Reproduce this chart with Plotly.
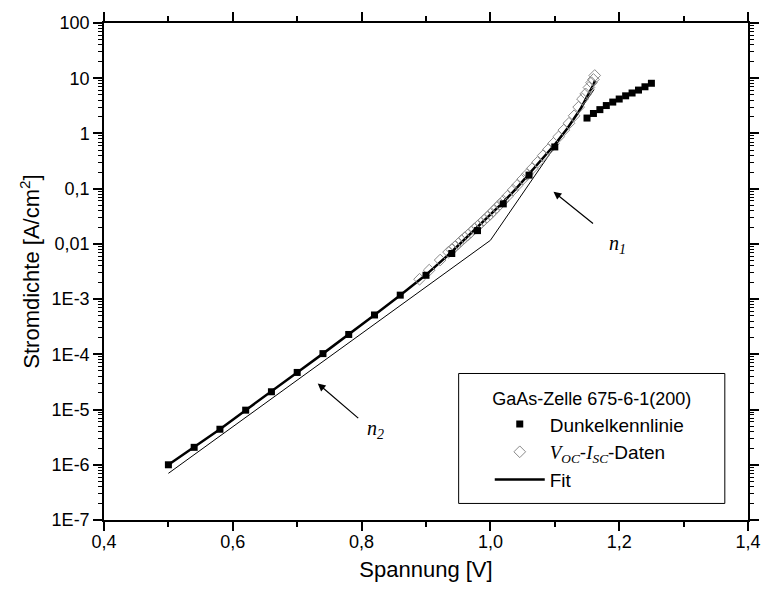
import plotly.graph_objects as go

# ---- data ----
dark_v = [0.50, 0.54, 0.58, 0.62, 0.66, 0.70, 0.74, 0.78, 0.82, 0.86, 0.90, 0.94, 0.98, 1.02, 1.06, 1.10,
          1.15, 1.16, 1.17, 1.18, 1.19, 1.20, 1.21, 1.22, 1.23, 1.24, 1.25]
dark_j = [1.0e-6, 2.07e-6, 4.4e-6, 9.75e-6, 2.1e-5, 4.7e-5, 1.03e-4, 2.29e-4, 5.16e-4, 1.18e-3, 2.7e-3,
          6.7e-3, 1.74e-2, 5.3e-2, 0.176, 0.57,
          1.9, 2.3, 2.7, 3.2, 3.7, 4.2, 4.8, 5.4, 6.1, 7.0, 8.1]

voc_v = [0.890, 0.905, 0.922, 0.935, 0.940, 0.945, 0.950, 0.955, 0.960, 0.965, 0.970, 0.975, 0.980,
         0.985, 0.990, 0.995, 1.000, 1.005, 1.010, 1.015, 1.020, 1.027, 1.035, 1.042, 1.050, 1.057,
         1.065, 1.073, 1.082, 1.090, 1.098, 1.106, 1.114, 1.122, 1.130, 1.137, 1.143, 1.148, 1.153,
         1.157, 1.160, 1.162]
voc_j = [2.29e-3, 3.35e-3, 5.1e-3, 7.1e-3, 7.9e-3, 8.9e-3, 1.01e-2, 1.15e-2, 1.29e-2, 1.45e-2, 1.64e-2,
         1.86e-2, 2.09e-2, 2.37e-2, 2.69e-2, 3.05e-2, 3.47e-2, 3.98e-2, 4.57e-2, 5.25e-2, 6.0e-2, 7.4e-2,
         9.4e-2, 0.116, 0.148, 0.182, 0.232, 0.299, 0.398, 0.513, 0.661, 0.871, 1.15, 1.53, 2.09, 3.0,
         4.2, 5.2, 6.8, 8.3, 9.5, 11.2]

fit_v = [0.50, 0.54, 0.58, 0.62, 0.66, 0.70, 0.74, 0.78, 0.82, 0.86, 0.90, 0.94, 0.98, 1.00, 1.02,
         1.04, 1.06, 1.08, 1.10, 1.12, 1.14, 1.16, 1.1625]
fit_j = [1.0e-6, 2.07e-6, 4.4e-6, 9.75e-6, 2.1e-5, 4.7e-5, 1.03e-4, 2.29e-4, 5.16e-4, 1.18e-3, 2.75e-3,
         7.2e-3, 2.0e-2, 3.3e-2, 5.7e-2, 0.10, 0.185, 0.34, 0.63, 1.26, 2.8, 7.6, 9.1]

asym_v = [0.50, 1.00, 1.161]
asym_j = [7.0e-7, 1.16e-2, 6.25]

x_ticks = [0.4, 0.6, 0.8, 1.0, 1.2, 1.4]
x_labels = ["0,4", "0,6", "0,8", "1,0", "1,2", "1,4"]
y_ticks = [1e-7, 1e-6, 1e-5, 1e-4, 1e-3, 1e-2, 1e-1, 1, 10, 100]
y_labels = ["1E-7", "1E-6", "1E-5", "1E-4", "1E-3", "0,01", "0,1", "1", "10", "100"]

FONT = "Liberation Sans, Arial, sans-serif"
SERIF = "Liberation Serif, Times New Roman, serif"

minor_y = [m * 10.0 ** e for e in range(-7, 2) for m in range(2, 10)]

voc_name = ("<span style='font-family:Liberation Serif'><i>V</i><sub><i>OC</i></sub></span>-"
            "<span style='font-family:Liberation Serif'><i>I</i><sub><i>SC</i></sub></span>-Daten")

fig = go.Figure()
fig.add_trace(go.Scatter(x=asym_v, y=asym_j, mode="lines", line=dict(color="black", width=1),
                         showlegend=False, hoverinfo="skip"))
fig.add_trace(go.Scatter(x=fit_v, y=fit_j, mode="lines", line=dict(color="black", width=2.5),
                         name="Fit", showlegend=False))
fig.add_trace(go.Scatter(x=voc_v, y=voc_j, mode="markers",
                         marker=dict(symbol="diamond-open", size=9, color="#8a8a8a", line=dict(width=1)),
                         name=voc_name, legendrank=2))
fig.add_trace(go.Scatter(x=dark_v, y=dark_j, mode="markers",
                         marker=dict(symbol="square", size=7, color="black"),
                         name="Dunkelkennlinie", legendrank=1))
fig.add_trace(go.Scatter(x=[None], y=[None], mode="lines", line=dict(color="black", width=2.5),
                         name="Fit", legendrank=3))

axis_common = dict(showline=True, linecolor="black", linewidth=1.5, showgrid=False, zeroline=False,
                   tickcolor="black", tickwidth=1.5, mirror="ticks")

fig.update_layout(
    width=773, height=590,
    margin=dict(l=104, r=14, t=20, b=69),
    paper_bgcolor="white", plot_bgcolor="white",
    font=dict(family=FONT, size=18, color="black"),
    xaxis=dict(range=[0.4, 1.4], tickmode="array", tickvals=x_ticks,
               ticktext=x_labels, ticks="outside", ticklen=9, ticklabelstandoff=-4,
               minor=dict(ticks="outside", ticklen=5, tickmode="linear", tick0=0.4, dtick=0.1,
                          tickcolor="black", tickwidth=1.5),
               title=dict(text="Spannung [V]", font=dict(size=22), standoff=10),
               tickfont=dict(size=18), **axis_common),
    yaxis=dict(type="log", range=[-7, 2], tickmode="array",
               tickvals=y_ticks, ticktext=y_labels, ticks="outside", ticklen=9,
               minor=dict(ticks="outside", ticklen=4, tickvals=minor_y, tickcolor="black", tickwidth=1),
               title=dict(text="Stromdichte [A/cm<sup>2</sup>]", font=dict(size=22), standoff=6),
               tickfont=dict(size=18), **axis_common),
    legend=dict(x=0.599, y=0.278, xanchor="left", yanchor="top", bgcolor="rgba(0,0,0,0)",
                borderwidth=0, font=dict(size=19),
                title=dict(text="GaAs-Zelle 675-6-1(200)", font=dict(size=18), side="top center"),
                itemwidth=50, tracegroupgap=0),
    showlegend=True,
)

# legend frame
fig.add_shape(type="rect", xref="paper", yref="paper", x0=0.5507, x1=0.9640, y0=0.0333, y1=0.2948,
              line=dict(color="black", width=1), fillcolor="white", layer="above")

# slope annotations
fig.add_annotation(x=1.098, y=-1.054, xref="x", yref="y", ax=41, ay=33, text="",
                   showarrow=True, arrowhead=2, arrowsize=1.3, arrowwidth=1.2, arrowcolor="black")
fig.add_annotation(x=0.7319, y=-4.526, xref="x", yref="y", ax=42, ay=36, text="",
                   showarrow=True, arrowhead=2, arrowsize=1.3, arrowwidth=1.2, arrowcolor="black")
fig.add_annotation(x=1.198, y=-2.006, xref="x", yref="y", showarrow=False,
                   text="<i>n</i><sub><i>1</i></sub>", font=dict(family=SERIF, size=20))
fig.add_annotation(x=0.821, y=-5.365, xref="x", yref="y", showarrow=False,
                   text="<i>n</i><sub><i>2</i></sub>", font=dict(family=SERIF, size=20))

fig.write_html("out.html")
